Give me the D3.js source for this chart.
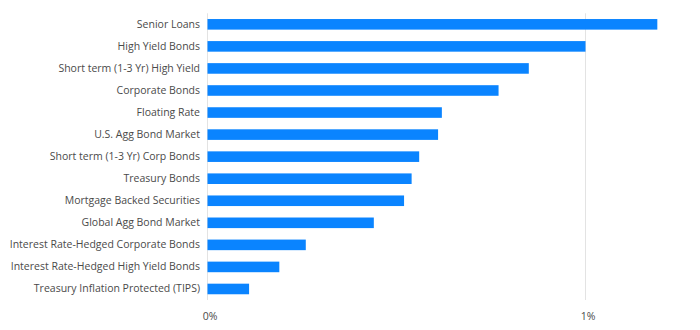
<!DOCTYPE html>
<html>
<head>
<meta charset="utf-8">
<script src="https://cdn.jsdelivr.net/npm/d3@7"></script>
<style>
  html, body { margin: 0; padding: 0; background: #fff; }
  svg { display: block; }
  text { font-family: "Open Sans", Lato, sans-serif; }
</style>
</head>
<body>
<svg id="chart" width="700" height="330"></svg>
<script>
// Categories, top to bottom
const categories = [
  "Senior Loans",
  "High Yield Bonds",
  "Short term (1-3 Yr) High Yield",
  "Corporate Bonds",
  "Floating Rate",
  "U.S. Agg Bond Market",
  "Short term (1-3 Yr) Corp Bonds",
  "Treasury Bonds",
  "Mortgage Backed Securities",
  "Global Agg Bond Market",
  "Interest Rate-Hedged Corporate Bonds",
  "Interest Rate-Hedged High Yield Bonds",
  "Treasury Inflation Protected (TIPS)"
];

// Values in percent
const values = [1.19, 1.0, 0.85, 0.77, 0.62, 0.61, 0.56, 0.54, 0.52, 0.44, 0.26, 0.19, 0.11];

// Tick values on the x axis (percent)
const xTicks = [0, 1];

const data = categories.map((c, i) => ({ name: c, value: values[i] }));

const svg = d3.select("#chart");
const margin = { left: 207.5, right: 25, top: 13.3, bottom: 30 };
const width = 700, height = 330;

const x = d3.scaleLinear()
  .domain([0, 1.2])
  .range([margin.left, margin.left + 378 * 1.2]);

const y = d3.scaleBand()
  .domain(categories)
  .range([margin.top, 300])
  .paddingInner(0.52)
  .paddingOuter(0.26);

// vertical grid lines at the ticks
svg.append("g")
  .selectAll("line")
  .data(xTicks)
  .join("line")
  .attr("x1", d => x(d)).attr("x2", d => x(d))
  .attr("y1", margin.top).attr("y2", 300)
  .attr("stroke", "#e3e3e3")
  .attr("stroke-width", 1);

// bars
svg.append("g")
  .selectAll("rect")
  .data(data)
  .join("rect")
  .attr("x", x(0))
  .attr("y", d => y(d.name))
  .attr("width", d => x(d.value) - x(0))
  .attr("height", y.bandwidth())
  .attr("fill", "#0a84ff");

// category labels
const yAxis = d3.axisLeft(y).tickSize(0).tickPadding(7.5);
svg.append("g")
  .attr("transform", `translate(${x(0)},0)`)
  .call(yAxis)
  .call(g => g.select(".domain").remove())
  .call(g => g.selectAll("text")
    .attr("fill", "#4a4a4a")
    .style("font-size", "10.5px")
    .style("font-family", "'Open Sans', Lato, sans-serif"));

// x axis labels
const xAxis = d3.axisBottom(x).tickValues(xTicks).tickFormat(d => d + "%").tickSize(0).tickPadding(0);
svg.append("g")
  .attr("transform", `translate(2,313)`)
  .call(xAxis)
  .call(g => g.select(".domain").remove())
  .call(g => g.selectAll("text")
    .attr("fill", "#4a4a4a")
    .style("font-size", "10.5px")
    .style("font-family", "'Open Sans', Lato, sans-serif"));
</script>
</body>
</html>
